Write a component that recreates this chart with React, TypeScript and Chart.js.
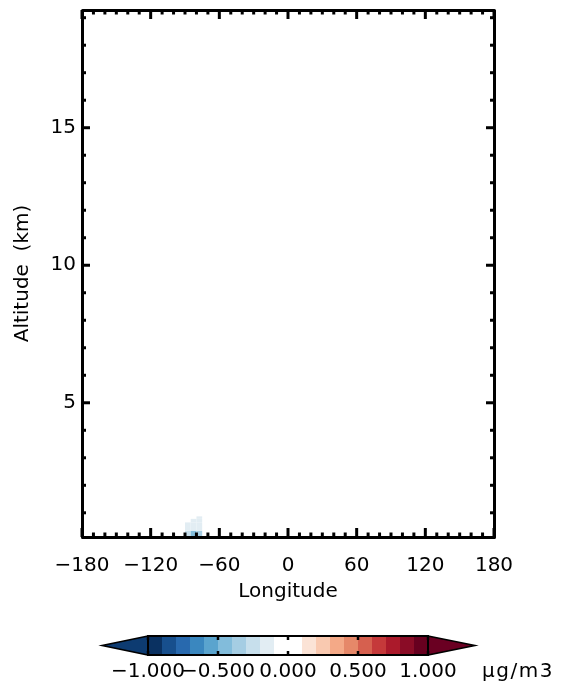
import React, { useEffect, useRef } from 'react';
import { Chart, registerables } from 'chart.js';

Chart.register(...registerables);

// ---------- data ----------
const lonRange = [-180, 180];
const altRange = [0.12, 19.28];
const lonTicks = [-180, -120, -60, 0, 60, 120, 180];
const lonTickLabels = ['\u2212180', '\u2212120', '\u221260', '0', '60', '120', '180'];
const lonMinorTicks = [-170, -160, -150, -140, -130, -110, -100, -90, -80, -70, -50, -40, -30, -20, -10,
  10, 20, 30, 40, 50, 70, 80, 90, 100, 110, 130, 140, 150, 160, 170];
const altTicks = [5, 10, 15];
const altTickLabels = ['5', '10', '15'];
const altMinorTicks = [1, 2, 3, 4, 6, 7, 8, 9, 11, 12, 13, 14, 16, 17, 18, 19];

const cellLonEdges = [-90, -85, -80, -75];
const cellAltEdges = [0, 0.35, 0.65, 0.78, 0.87];
const cellValues: (number | null)[][] = [
  [-0.25, -0.42, -0.32],
  [-0.15, -0.15, -0.15],
  [null, -0.15, -0.15],
  [null, null, -0.15],
];

const levels = [-1.0, -0.9, -0.8, -0.7, -0.6, -0.5, -0.4, -0.3, -0.2, -0.1, 0.0,
  0.1, 0.2, 0.3, 0.4, 0.5, 0.6, 0.7, 0.8, 0.9, 1.0];
const binColors = [
  '#0a3161', '#174f8d', '#2869ae', '#3a87bf', '#5aa4ce', '#82bcdb', '#a5cde3', '#c7dfec', '#e2edf3',
  '#ffffff', '#ffffff',
  '#fbe3d6', '#f9c9b0', '#f4a987', '#e68869', '#d6604f', '#c5393a', '#ab1a2b', '#8a0c26', '#67001f',
];
const underColor = '#0d3b71';
const overColor = '#6a0022';
const cbTickValues = [-1.0, -0.5, 0.0, 0.5, 1.0];
const cbTickLabels = ['\u22121.000', '\u22120.500', '0.000', '0.500', '1.000'];
const unitLabel = '\u03bcg/m3';

const FONT = 'DejaVu Sans';
const FS = 20;

function colorFor(v: number): string {
  if (v < levels[0]) return underColor;
  if (v >= levels[levels.length - 1]) return overColor;
  for (let i = 0; i < levels.length - 1; i++) {
    if (v >= levels[i] && v < levels[i + 1]) return binColors[i];
  }
  return overColor;
}

const cellsPlugin = {
  id: 'cells',
  beforeDatasetsDraw(chart: any) {
    const { ctx, chartArea, scales } = chart;
    const xs = scales.x, ys = scales.y;
    ctx.save();
    ctx.beginPath();
    ctx.rect(chartArea.left, chartArea.top, chartArea.right - chartArea.left, chartArea.bottom - chartArea.top);
    ctx.clip();
    for (let r = 0; r < cellValues.length; r++) {
      for (let c = 0; c < cellValues[r].length; c++) {
        const v = cellValues[r][c];
        if (v === null) continue;
        const x0 = xs.getPixelForValue(cellLonEdges[c]);
        const x1 = xs.getPixelForValue(cellLonEdges[c + 1]);
        const y0 = ys.getPixelForValue(cellAltEdges[r]);
        const y1 = ys.getPixelForValue(cellAltEdges[r + 1]);
        ctx.fillStyle = colorFor(v);
        ctx.fillRect(x0, y1, x1 - x0, y0 - y1);
      }
    }
    ctx.restore();
  },
};

const framePlugin = {
  id: 'frame',
  afterDraw(chart: any) {
    const { ctx, chartArea, scales } = chart;
    const xs = scales.x, ys = scales.y;
    const { left, right, top, bottom } = chartArea;
    ctx.save();
    ctx.strokeStyle = '#000';
    ctx.lineCap = 'butt';
    ctx.lineWidth = 3;
    const seg = (x0: number, y0: number, x1: number, y1: number) => {
      ctx.beginPath(); ctx.moveTo(x0, y0); ctx.lineTo(x1, y1); ctx.stroke();
    };
    const majX = 9, minX = 4.5, majY = 8, minY = 4;
    lonTicks.forEach(v => {
      const p = xs.getPixelForValue(v);
      seg(p, bottom, p, bottom - majX);
      seg(p, top, p, top + majX);
    });
    lonMinorTicks.forEach(v => {
      const p = xs.getPixelForValue(v);
      seg(p, bottom, p, bottom - minX);
      seg(p, top, p, top + minX);
    });
    altTicks.forEach(v => {
      const p = ys.getPixelForValue(v);
      seg(left, p, left + majY, p);
      seg(right, p, right - majY, p);
    });
    altMinorTicks.forEach(v => {
      const p = ys.getPixelForValue(v);
      seg(left, p, left + minY, p);
      seg(right, p, right - minY, p);
    });
    ctx.lineJoin = 'round';
    ctx.strokeRect(left + 0.5, top + 0.5, right - left, bottom - top);
    ctx.restore();
  },
};

const colorbarPlugin = {
  id: 'colorbar',
  afterDraw(chart: any) {
    const ctx = chart.ctx;
    const cbLeft = 148, cbRight = 428, cbTop = 636, cbBottom = 655;
    const tipL = 102, tipR = 475;
    const midY = (cbTop + cbBottom) / 2;
    const lo = levels[0], hi = levels[levels.length - 1];
    const px = (v: number) => cbLeft + ((v - lo) / (hi - lo)) * (cbRight - cbLeft);
    ctx.save();
    ctx.fillStyle = underColor;
    ctx.beginPath(); ctx.moveTo(cbLeft, cbTop); ctx.lineTo(tipL, midY); ctx.lineTo(cbLeft, cbBottom); ctx.closePath(); ctx.fill();
    ctx.strokeStyle = '#000'; ctx.lineWidth = 1.5; ctx.stroke();
    ctx.fillStyle = overColor;
    ctx.beginPath(); ctx.moveTo(cbRight, cbTop); ctx.lineTo(tipR, midY); ctx.lineTo(cbRight, cbBottom); ctx.closePath(); ctx.fill();
    ctx.stroke();
    for (let i = 0; i < binColors.length; i++) {
      const x0 = px(levels[i]), x1 = px(levels[i + 1]);
      ctx.fillStyle = binColors[i];
      ctx.fillRect(x0, cbTop, x1 - x0 + 0.5, cbBottom - cbTop);
    }
    ctx.lineWidth = 2;
    ctx.strokeStyle = '#000';
    ctx.strokeRect(cbLeft, cbTop, cbRight - cbLeft, cbBottom - cbTop);
    ctx.lineWidth = 2.5;
    cbTickValues.forEach(v => {
      const p = px(v);
      ctx.beginPath(); ctx.moveTo(p, cbTop); ctx.lineTo(p, cbTop + 4); ctx.stroke();
      ctx.beginPath(); ctx.moveTo(p, cbBottom); ctx.lineTo(p, cbBottom - 4); ctx.stroke();
    });
    ctx.fillStyle = '#000';
    ctx.font = `${FS}px "${FONT}"`;
    ctx.textAlign = 'center';
    ctx.textBaseline = 'alphabetic';
    cbTickValues.forEach((v, i) => {
      ctx.fillText(cbTickLabels[i], px(v), 677);
    });
    ctx.textAlign = 'left';
    try { (ctx as any).letterSpacing = '1.5px'; } catch (e) { /* ignore */ }
    ctx.fillText(unitLabel, 482, 677);
    ctx.restore();
  },
};

export default function App() {
  const ref = useRef<HTMLCanvasElement | null>(null);
  useEffect(() => {
    if (!ref.current) return;
    const tickFont = { family: FONT, size: FS };
    const chart = new Chart(ref.current, {
      type: 'scatter',
      data: { datasets: [{ data: [] }] },
      options: {
        animation: false,
        responsive: false,
        maintainAspectRatio: false,
        devicePixelRatio: 1,
        layout: { padding: { left: 0, top: 10, right: 74, bottom: 0 } },
        plugins: { legend: { display: false }, tooltip: { enabled: false } },
        scales: {
          x: {
            type: 'linear',
            position: 'bottom',
            min: lonRange[0],
            max: lonRange[1],
            grid: { display: false, drawTicks: false },
            border: { display: false },
            afterBuildTicks: (s: any) => { s.ticks = lonTicks.map(v => ({ value: v })); },
            afterFit: (s: any) => { s.height = 151; s.paddingLeft = 0; s.paddingRight = 0; },
            ticks: {
              autoSkip: false,
              maxRotation: 0,
              minRotation: 0,
              padding: 17,
              color: '#000',
              font: tickFont,
              callback: (_v: any, i: number) => lonTickLabels[i],
            },
            title: {
              display: true,
              text: 'Longitude',
              color: '#000',
              font: tickFont,
              padding: { top: 0, bottom: 84 },
            },
          },
          y: {
            type: 'linear',
            position: 'left',
            min: altRange[0],
            max: altRange[1],
            grid: { display: false, drawTicks: false },
            border: { display: false },
            afterBuildTicks: (s: any) => { s.ticks = altTicks.map(v => ({ value: v })); },
            afterFit: (s: any) => { s.width = 82; s.paddingTop = 0; s.paddingBottom = 0; },
            ticks: {
              autoSkip: false,
              padding: 6,
              color: '#000',
              font: tickFont,
              callback: (_v: any, i: number) => altTickLabels[i],
            },
            title: {
              display: true,
              text: 'Altitude  (km)',
              color: '#000',
              font: tickFont,
              padding: { top: 10.7, bottom: 0 },
            },
          },
        },
      } as any,
      plugins: [cellsPlugin, framePlugin, colorbarPlugin],
    });
    return () => chart.destroy();
  }, []);
  return (
    <div style={{ position: 'absolute', left: 0, top: 0, width: 568, height: 688, background: '#fff' }}>
      <canvas ref={ref} width={568} height={688} style={{ width: 568, height: 688, display: 'block' }} />
    </div>
  );
}
